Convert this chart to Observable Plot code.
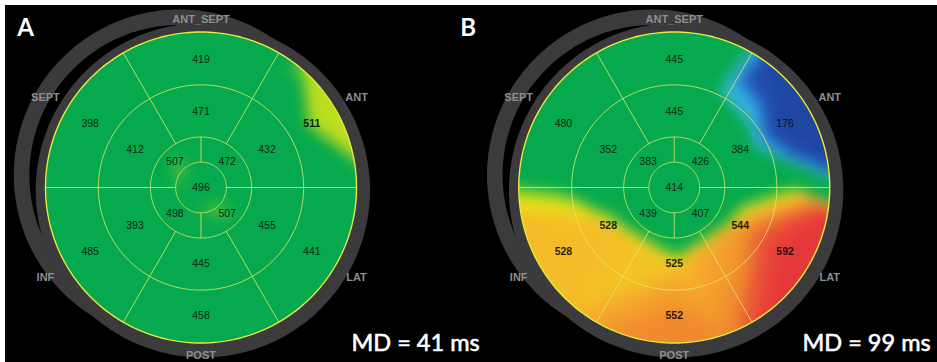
<!DOCTYPE html>
<html><head><meta charset="utf-8">
<script src="https://cdn.jsdelivr.net/npm/d3@7"></script>
<script src="https://cdn.jsdelivr.net/npm/@observablehq/plot@0.6"></script>
<style>
html,body{margin:0;padding:0;background:#fff;}
#wrap{position:relative;width:937px;height:362px;overflow:hidden;background:#000;}
#wrap .edge{position:absolute;background:#fff;}
</style></head><body>
<div id="wrap"></div>
<script>
// ---- data ----
const panels = ["A", "B"];
const walls = ["ANT_SEPT", "ANT", "LAT", "POST", "INF", "SEPT"];
// basal & mid order: anteroseptal(top), anterior, lateral, posterior(bottom), inferior, septal
const basalA = [419, 511, 441, 458, 485, 398];
const midA = [471, 432, 455, 445, 393, 412];
// apical order: upper-right, upper-left, lower-left, lower-right
const apicalA = [472, 507, 498, 507];
const apexA = 496;
const basalB = [445, 176, 592, 552, 528, 480];
const midB = [445, 384, 544, 525, 528, 352];
const apicalB = [426, 383, 439, 407];
const apexB = 414;
const mdValues = [41, 99];

// ---- geometry / layout ----
const W = 937, H = 362;
const PX = 155.5;            // pixels per unit radius
const CX = 200.5, CY = 187;  // centre of the bullseye inside its facet
const PAD = 0.02;
const step = W / (2 - PAD), bw = step * (1 - PAD);
const R_APEX = 0.163, R_APICAL = 0.325, R_MID = 0.66;
const EXT = 1.05;            // half-size of the colour raster, in radius units
const rad = d => d * Math.PI / 180;
const pol = (r, deg) => [r * Math.cos(rad(deg)), r * Math.sin(rad(deg))];

const sets = {
  A: {basal: basalA, mid: midA, apical: apicalA, apex: apexA},
  B: {basal: basalB, mid: midB, apical: apicalB, apex: apexB}
};

const labels = [], samples = [], wallLabels = [];
for (const p of panels) {
  const s = sets[p];
  s.basal.forEach((v, i) => {
    const a = 90 - 60 * i;
    const [x, y] = pol(0.823, a);
    labels.push({panel: p, x, y, v});
    samples.push({panel: p, x, y, v});
    for (const da of [-20, 20]) {
      const [ex, ey] = pol(1.04, a + da);
      samples.push({panel: p, x: ex, y: ey, v});
    }
  });
  s.mid.forEach((v, i) => {
    const [x, y] = pol(0.49, 90 - 60 * i);
    labels.push({panel: p, x, y, v});
    samples.push({panel: p, x, y, v});
  });
  s.apical.forEach((v, i) => {
    const [x, y] = pol(0.238, 45 + 90 * i);
    labels.push({panel: p, x, y, v});
    samples.push({panel: p, x, y, v});
  });
  labels.push({panel: p, x: 0, y: 0, v: s.apex});
  samples.push({panel: p, x: 0, y: 0, v: s.apex});
  walls.forEach((name, i) => {
    const [x, y] = pol(i % 3 === 0 ? 1.08 : 1.155, 90 - 60 * i);
    wallLabels.push({panel: p, x, y, name});
  });
}

function circle(cx, cy, r, key, n = 240) {
  const out = [];
  for (const p of panels) for (let k = 0; k < n; ++k) {
    const t = 2 * Math.PI * k / n;
    out.push({panel: p, x: cx + r * Math.cos(t), y: cy + r * Math.sin(t), z: p + key});
  }
  return out;
}
const backOuter = circle(-0.139, 0.08, 1.065, "bo");
const backInner = circle(-0.139, 0.08, 0.965, "bi");
const mainShell = circle(0.012, -0.018, 1.075, "ms");
const rings = [R_APEX, R_APICAL, R_MID].flatMap((r, i) => circle(0, 0, r, "r" + i));
const outline = circle(0, 0, 1, "out");
const spokes = [];
for (const p of panels) {
  for (const a of [0, 60, 120, 180, 240, 300]) {
    const r0 = a % 180 === 0 ? R_APEX : R_APICAL;
    const [x1, y1] = pol(r0, a), [x2, y2] = pol(1, a);
    spokes.push({panel: p, x1, y1, x2, y2});
  }
  for (const a of [90, 270]) {
    const [x1, y1] = pol(R_APEX, a), [x2, y2] = pol(R_APICAL, a);
    spokes.push({panel: p, x1, y1, x2, y2});
  }
}

const gray = "#3b3b3d";
const gridColor = "#e4e86a";
const fontNum = "Liberation Sans, Arial, sans-serif";
const fontBig = "Lato, Open Sans, sans-serif";

const chart = Plot.plot({
  width: W, height: H,
  marginLeft: 0, marginRight: 0, marginTop: 0, marginBottom: 0,
  style: {background: "black"},
  fx: {domain: panels, paddingInner: PAD, paddingOuter: 0, round: false, axis: null},
  x: {domain: [-CX / PX, (bw - CX) / PX], axis: null},
  y: {domain: [-(H - CY) / PX, CY / PX], axis: null},
  color: {
    type: "linear",
    domain: [176, 262, 285, 318, 336, 500, 514, 532, 552, 572, 592],
    range: ["#1e46a2", "#2350b4", "#2ea6e4", "#3cbce8", "#06a94d", "#06a94d", "#ecec14", "#f6b02c", "#f08a2e", "#e94a38", "#e53838"],
    clamp: true
  },
  marks: [
    Plot.line(backOuter, {x: "x", y: "y", z: "z", fx: "panel", fill: gray, stroke: null, curve: "linear-closed"}),
    Plot.line(backInner, {x: "x", y: "y", z: "z", fx: "panel", fill: "black", stroke: null, curve: "linear-closed"}),
    Plot.line(mainShell, {x: "x", y: "y", z: "z", fx: "panel", fill: gray, stroke: null, curve: "linear-closed"}),
    Plot.raster(samples, {
      x: "x", y: "y", fill: "v", fx: "panel",
      interpolate: "barycentric", blur: 6, pixelSize: 1,
      x1: -EXT, x2: EXT, y1: -EXT, y2: EXT
    }),
    Plot.line(rings, {x: "x", y: "y", z: "z", fx: "panel", stroke: gridColor, strokeOpacity: 0.8, strokeWidth: 1, curve: "linear-closed"}),
    Plot.link(spokes, {x1: "x1", y1: "y1", x2: "x2", y2: "y2", fx: "panel", stroke: gridColor, strokeOpacity: 0.8, strokeWidth: 1}),
    Plot.line(outline, {x: "x", y: "y", z: "z", fx: "panel", stroke: "#e8ec3c", strokeWidth: 1.4, curve: "linear-closed"}),
    Plot.text(labels.filter(d => d.v < 509), {
      x: "x", y: "y", fx: "panel", text: d => String(d.v),
      fill: "black", fillOpacity: 0.8, fontSize: 10.5, fontFamily: fontNum
    }),
    Plot.text(labels.filter(d => d.v >= 509), {
      x: "x", y: "y", fx: "panel", text: d => String(d.v),
      fill: "black", fillOpacity: 0.85, fontSize: 10.5, fontWeight: "bold", fontFamily: fontNum
    }),
    Plot.text(wallLabels, {
      x: "x", y: "y", fx: "panel", text: "name",
      fill: "#8e8e8e", fontSize: 11, fontWeight: "bold", fontFamily: fontNum
    }),
    Plot.text([{panel: "A"}], {fx: "panel", text: "panel", frameAnchor: "top-left", dx: 25, dy: 28.3,
      textAnchor: "middle", lineAnchor: "middle", fill: "white", fontSize: 24, fontWeight: "bold", fontFamily: fontBig}),
    Plot.text([{panel: "B"}], {fx: "panel", text: "panel", frameAnchor: "top-left", dx: 467.7 - step, dy: 27.5,
      textAnchor: "middle", lineAnchor: "middle", fill: "white", fontSize: 24, fontWeight: "bold", fontFamily: fontBig}),
    Plot.text([{panel: "A", md: mdValues[0]}], {fx: "panel", text: d => `MD = ${d.md} ms`, frameAnchor: "bottom-left", dx: 351, dy: -18.7,
      textAnchor: "start", lineAnchor: "middle", fill: "white", stroke: "white", strokeWidth: 0.6,
      fontSize: 23.5, fontFamily: fontBig}),
    Plot.text([{panel: "B", md: mdValues[1]}], {fx: "panel", text: d => `MD = ${d.md} ms`, frameAnchor: "bottom-left", dx: 802 - step, dy: -18.7,
      textAnchor: "start", lineAnchor: "middle", fill: "white", stroke: "white", strokeWidth: 0.6,
      fontSize: 23.5, fontFamily: fontBig})
  ]
});

// clip the interpolated colour field to the bullseye disc, in the image's own
// coordinate system (the raster image spans [-EXT, EXT] in both directions)
const ns = "http://www.w3.org/2000/svg";
const defs = document.createElementNS(ns, "defs");
chart.insertBefore(defs, chart.firstChild);
chart.querySelectorAll("image").forEach((img, i) => {
  const w = +img.getAttribute("width"), h = +img.getAttribute("height");
  const cp = document.createElementNS(ns, "clipPath");
  cp.setAttribute("id", "disc" + i);
  cp.setAttribute("clipPathUnits", "userSpaceOnUse");
  const disc = document.createElementNS(ns, "ellipse");
  disc.setAttribute("cx", w / 2);
  disc.setAttribute("cy", h / 2);
  disc.setAttribute("rx", w / (2 * EXT));
  disc.setAttribute("ry", h / (2 * EXT));
  cp.appendChild(disc);
  defs.appendChild(cp);
  img.setAttribute("clip-path", `url(#disc${i})`);
});

const wrap = document.getElementById("wrap");
wrap.appendChild(chart);
const edgeTop = document.createElement("div"); edgeTop.className = "edge";
Object.assign(edgeTop.style, {left: "0px", top: "0px", width: W + "px", height: "5px"});
const edgeLeft = document.createElement("div"); edgeLeft.className = "edge";
Object.assign(edgeLeft.style, {left: "0px", top: "0px", width: "5px", height: H + "px"});
wrap.appendChild(edgeTop); wrap.appendChild(edgeLeft);
</script>
</body></html>
